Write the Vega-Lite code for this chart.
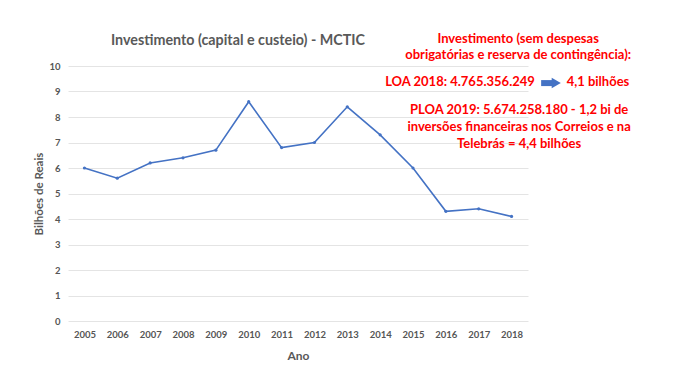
{
  "$schema": "https://vega.github.io/schema/vega-lite/v6.json",
  "width": 460,
  "height": 255,
  "autosize": {"type": "none"},
  "padding": {"left": 68, "top": 66, "right": 172, "bottom": 66},
  "background": "white",
  "config": {
    "font": "Lato",
    "view": {"stroke": null},
    "axis": {"labelFont": "Lato", "titleFont": "Lato", "labelColor": "#555555", "titleColor": "#595959", "labelFontWeight": "bold", "titleFontWeight": "bold", "labelOverlap": false, "domain": false, "ticks": false, "labelPadding": 8, "labelFontSize": 9.5},
    "axisX": {"grid": false, "tickCount": 14, "format": "d", "titleFontSize": 12, "titlePadding": 12},
    "axisY": {"grid": true, "tickCount": 10, "gridColor": "#E4E4E4", "gridWidth": 1, "gridOpacity": 1, "titleFontSize": 11.5, "titlePadding": 4}
  },
  "title": {
    "text": "Investimento (capital e custeio) - MCTIC",
    "font": "Lato",
    "fontSize": 14.3,
    "fontWeight": "bold",
    "color": "#595959",
    "anchor": "middle",
    "dx": -60,
    "offset": -15
  },
  "layer": [
    {
      "data": {"values": [
        {"ano": 2005, "valor": 6.0},
        {"ano": 2006, "valor": 5.6},
        {"ano": 2007, "valor": 6.2},
        {"ano": 2008, "valor": 6.4},
        {"ano": 2009, "valor": 6.7},
        {"ano": 2010, "valor": 8.6},
        {"ano": 2011, "valor": 6.8},
        {"ano": 2012, "valor": 7.0},
        {"ano": 2013, "valor": 8.4},
        {"ano": 2014, "valor": 7.3},
        {"ano": 2015, "valor": 6.0},
        {"ano": 2016, "valor": 4.3},
        {"ano": 2017, "valor": 4.4},
        {"ano": 2018, "valor": 4.1}
      ]},
      "mark": {"type": "line", "color": "#4472C4", "strokeWidth": 1.6, "point": {"color": "#4472C4", "size": 10, "filled": true}},
      "encoding": {
        "x": {
          "field": "ano", "type": "quantitative",
          "scale": {"domain": [2004.5, 2018.5], "nice": false, "zero": false},
          "title": "Ano"
        },
        "y": {
          "field": "valor", "type": "quantitative",
          "scale": {"domain": [0, 10], "nice": false},
          "title": "Bilhões de Reais"
        }
      }
    },
    {
      "data": {"values": [{}]},
      "mark": {"type": "text", "color": "#FF0000", "font": "Lato", "fontSize": 13, "fontWeight": "bold", "align": "center", "baseline": "middle", "lineHeight": 16},
      "encoding": {
        "x": {"datum": 2018.2, "type": "quantitative"},
        "y": {"datum": 11.06, "type": "quantitative"},
        "text": {"value": ["Investimento (sem despesas", "obrigatórias e reserva de contingência):"]}
      }
    },
    {
      "data": {"values": [{}]},
      "mark": {"type": "text", "color": "#FF0000", "font": "Lato", "fontSize": 13, "fontWeight": "bold", "align": "center", "baseline": "middle"},
      "encoding": {
        "x": {"datum": 2016.43, "type": "quantitative"},
        "y": {"datum": 9.37, "type": "quantitative"},
        "text": {"value": "LOA 2018: 4.765.356.249"}
      }
    },
    {
      "data": {"values": [{}]},
      "mark": {"type": "rule", "color": "#4472C4", "strokeWidth": 6},
      "encoding": {
        "x": {"datum": 2018.9, "type": "quantitative"},
        "x2": {"datum": 2019.28},
        "y": {"datum": 9.33, "type": "quantitative"}
      }
    },
    {
      "data": {"values": [{}]},
      "mark": {"type": "point", "shape": "triangle-right", "filled": true, "color": "#4472C4", "size": 110, "opacity": 1},
      "encoding": {
        "x": {"datum": 2019.36, "type": "quantitative"},
        "y": {"datum": 9.33, "type": "quantitative"}
      }
    },
    {
      "data": {"values": [{}]},
      "mark": {"type": "text", "color": "#FF0000", "font": "Lato", "fontSize": 13, "fontWeight": "bold", "align": "center", "baseline": "middle"},
      "encoding": {
        "x": {"datum": 2020.63, "type": "quantitative"},
        "y": {"datum": 9.37, "type": "quantitative"},
        "text": {"value": "4,1 bilhões"}
      }
    },
    {
      "data": {"values": [{}]},
      "mark": {"type": "text", "color": "#FF0000", "font": "Lato", "fontSize": 13, "fontWeight": "bold", "align": "center", "baseline": "middle", "lineHeight": 17},
      "encoding": {
        "x": {"datum": 2018.23, "type": "quantitative"},
        "y": {"datum": 8.27, "type": "quantitative"},
        "text": {"value": ["PLOA 2019:  5.674.258.180 - 1,2 bi de", "inversões financeiras nos Correios e na", "Telebrás = 4,4 bilhões"]}
      }
    }
  ]
}
